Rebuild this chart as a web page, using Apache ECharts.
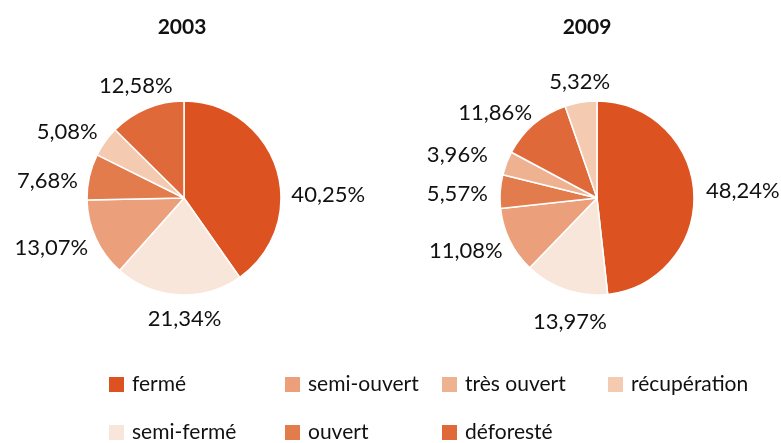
<!DOCTYPE html>
<html>
<head>
<meta charset="utf-8">
<script src="https://cdn.jsdelivr.net/npm/echarts@6/dist/echarts.min.js"></script>
<style>
html,body{margin:0;padding:0;background:#fff;}
#chart{width:781px;height:443px;}
</style>
</head>
<body>
<div id="chart"></div>
<script>
// ---- Data ----
const years = ['2003', '2009'];
const categories2003 = ['fermé', 'semi-fermé', 'semi-ouvert', 'ouvert', 'récupération', 'déforesté'];
const values2003 = [40.25, 21.34, 13.07, 7.68, 5.08, 12.58];
const categories2009 = ['fermé', 'semi-fermé', 'semi-ouvert', 'ouvert', 'très ouvert', 'déforesté', 'récupération'];
const values2009 = [48.24, 13.97, 11.08, 5.57, 3.96, 11.86, 5.32];
const legendRow1 = ['fermé', 'semi-ouvert', 'très ouvert', 'récupération'];
const legendRow2 = ['semi-fermé', 'ouvert', 'déforesté'];

// ---- Styles ----
const colors = {
  'fermé': '#DC5321',
  'semi-fermé': '#F9E6DA',
  'semi-ouvert': '#EBA07B',
  'ouvert': '#E27C4C',
  'très ouvert': '#EFB290',
  'récupération': '#F4CAB0',
  'déforesté': '#E0693A'
};
const FONT = 'Lato, "DejaVu Sans", sans-serif';
const pieCenters = [[184, 198], [597, 198]];
const pieRadius = 97;
const labelGap = 13;
// small label nudges (label text only), [series][dataIndex] -> [dx, dy]
const labelNudge = {
  0: {0: [5, 33], 1: [9, 1], 3: [0, 9], 4: [-3, 4], 5: [8, -1]},
  1: {1: [20, 10], 3: [0, 4], 4: [-9, 0], 5: [-7, 6], 6: [6, 2]}
};

const chart = echarts.init(document.getElementById('chart'), null, {renderer: 'canvas'});

function fmt(v) { return v.toFixed(2).replace('.', ',') + '%'; }

function buildData(cats, vals) {
  return cats.map((c, i) => ({name: c, value: vals[i], itemStyle: {color: colors[c]}}));
}

const allVals = [values2003, values2009];

function labelLayoutFor(si) {
  return function (params) {
    const vals = allVals[si];
    const total = vals.reduce((a, b) => a + b, 0);
    let cum = 0;
    for (let i = 0; i < params.dataIndex; i++) cum += vals[i];
    const mid = (cum + vals[params.dataIndex] / 2) / total * 2 * Math.PI;
    const ux = Math.sin(mid), uy = -Math.cos(mid);
    const txt = fmt(vals[params.dataIndex]);
    const w = txt.length * 12, h = 20;
    const c = pieCenters[si];
    const d = pieRadius + labelGap;
    let x = c[0] + ux * d + ux * w / 2;
    let y = c[1] + uy * d + uy * h / 2;
    const n = labelNudge[si] && labelNudge[si][params.dataIndex];
    if (n) { x += n[0]; y += n[1]; }
    return {x: x, y: y, align: 'center', verticalAlign: 'middle', width: 200};
  };
}

function pieSeries(si, cats, vals) {
  return {
    type: 'pie',
    center: pieCenters[si],
    radius: pieRadius,
    startAngle: 90,
    clockwise: true,
    animation: false,
    silent: true,
    data: buildData(cats, vals),
    itemStyle: {borderColor: '#fff', borderWidth: 1.5},
    label: {
      show: true,
      position: 'outside',
      overflow: 'none',
      formatter: p => fmt(p.value),
      fontFamily: FONT,
      fontSize: 22,
      color: '#111'
    },
    labelLine: {show: false},
    labelLayout: labelLayoutFor(si)
  };
}

const legendCols = [107, 283, 440, 606];
const legends = [];
legendRow1.forEach((n, i) => legends.push({data: [n], left: legendCols[i], top: 374}));
legendRow2.forEach((n, i) => legends.push({data: [n], left: legendCols[i], top: 422}));
legends.forEach(l => {
  l.orient = 'horizontal';
  l.itemWidth = 17;
  l.itemHeight = 17;
  l.icon = 'rect';
  l.selectedMode = false;
  l.padding = 0;
  l.textStyle = {fontFamily: FONT, fontSize: 21, color: '#111', padding: [0, 0, 0, 2]};
});

const option = {
  backgroundColor: '#fff',
  animation: false,
  title: years.map((y, i) => ({
    text: y,
    left: i === 0 ? 177 : 582,
    top: 12,
    textAlign: 'center',
    textStyle: {fontFamily: FONT, fontSize: 21, fontWeight: 'bold', color: '#111'}
  })),
  legend: legends,
  series: [
    pieSeries(0, categories2003, values2003),
    pieSeries(1, categories2009, values2009)
  ]
};
chart.setOption(option);
</script>
</body>
</html>
